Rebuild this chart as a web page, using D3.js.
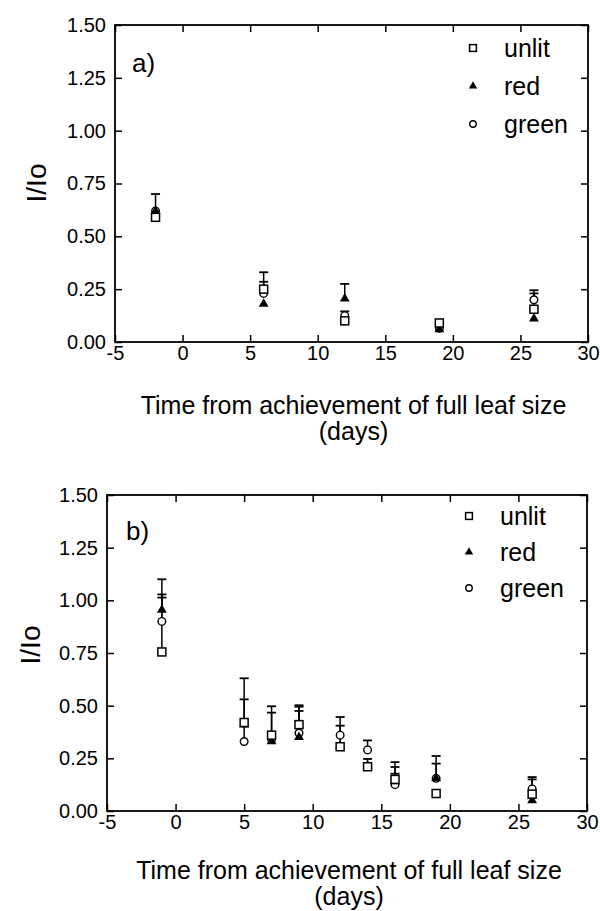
<!DOCTYPE html>
<html><head><meta charset="utf-8">
<script src="https://cdn.jsdelivr.net/npm/d3@7"></script>
<style>body{margin:0;background:#fff}svg{display:block}text{font-family:"Liberation Sans",Arial,sans-serif;fill:#000}</style>
</head><body>
<svg id="c" width="600" height="911"></svg>
<script>
// Panel a data
const daysA = [-2, 6, 12, 19, 26];
const unlitA = [0.59, 0.25, 0.10, 0.09, 0.155];
const redA = [0.62, 0.18, 0.205, 0.06, 0.11];
const greenA = [0.62, 0.23, 0.125, 0.065, 0.20];
const unlitAErr = [0, 0.08, 0, 0, 0.075];
const redAErr = [0.08, 0, 0.07, 0, 0];
const greenAErr = [0, 0.055, 0.02, 0, 0.045];
// Panel b data
const daysB = [-1, 5, 7, 9, 12, 14, 16, 19, 26];
const unlitB = [0.755, 0.42, 0.36, 0.41, 0.305, 0.21, 0.15, 0.083, 0.08];
const redB = [0.955, 0.41, 0.33, 0.35, 0.31, 0.215, 0.14, 0.155, 0.05];
const greenB = [0.90, 0.33, 0.34, 0.37, 0.36, 0.29, 0.125, 0.155, 0.105];
const unlitBErr = [0.345, 0.21, 0.137, 0.092, 0.10, 0.037, 0.082, 0.0, 0.081];
const redBErr = [0.073, 0, 0.137, 0.125, 0, 0, 0.069, 0.106, 0];
const greenBErr = [0.113, 0.2, 0, 0.125, 0.086, 0.045, 0.052, 0.07, 0.045];
// Ticks
const xTicks = [-5, 0, 5, 10, 15, 20, 25, 30];
const yTicks = [0, 0.25, 0.5, 0.75, 1.0, 1.25, 1.5];
const seriesNames = ["unlit", "red", "green"];
const xTitle = "Time from achievement of full leaf size";
const xTitle2 = "(days)";
const yTitle = "I/Io";

const svg = d3.select("#c");
const FONT = '"Liberation Sans",Arial,sans-serif';

function marker(g, type, cx, cy, s) {
  s = s || 1;
  if (type === "unlit") {
    g.append("rect").attr("x", cx - 4 * s).attr("y", cy - 4 * s).attr("width", 8 * s).attr("height", 8 * s)
      .attr("fill", "#fff").attr("stroke", "#000").attr("stroke-width", 1.5);
  } else if (type === "red") {
    g.append("path").attr("d", d3.symbol(d3.symbolTriangle, 42 * s * s)()).attr("transform", `translate(${cx},${cy})`)
      .attr("fill", "#000");
  } else {
    g.append("circle").attr("cx", cx).attr("cy", cy).attr("r", 3.8 * s)
      .attr("fill", "#fff").attr("stroke", "#000").attr("stroke-width", 1.4);
  }
}

function panel(cfg) {
  const x = d3.scaleLinear().domain([-5, 30]).range([cfg.left, cfg.right]);
  const y = d3.scaleLinear().domain([0, 1.5]).range([cfg.bottom, cfg.top]);
  const g = svg.append("g");
  const fmt = d3.format(".2f");
  const ax = g.append("g").attr("transform", `translate(0,${cfg.bottom})`)
    .call(d3.axisBottom(x).tickValues(xTicks).tickSize(-7).tickPadding(4).tickFormat(d => String(d)));
  const axT = g.append("g").attr("transform", `translate(0,${cfg.top})`)
    .call(d3.axisTop(x).tickValues(xTicks).tickSize(-7).tickFormat(""));
  const ay = g.append("g").attr("transform", `translate(${cfg.left},0)`)
    .call(d3.axisLeft(y).tickValues(yTicks).tickSize(-7).tickPadding(9).tickFormat(fmt));
  const ayR = g.append("g").attr("transform", `translate(${cfg.right},0)`)
    .call(d3.axisRight(y).tickValues(yTicks).tickSize(-7).tickFormat(""));
  [ax, axT, ay, ayR].forEach(a => {
    a.select(".domain").remove();
    a.selectAll(".tick line").attr("stroke", "#000").attr("stroke-width", 1.5);
    a.selectAll("text").attr("font-size", 20).attr("font-family", FONT).attr("fill", "#000");
  });
  g.append("rect").attr("x", cfg.left).attr("y", cfg.top)
    .attr("width", cfg.right - cfg.left).attr("height", cfg.bottom - cfg.top)
    .attr("fill", "none").attr("stroke", "#000").attr("stroke-width", 1.8);
  // titles
  g.append("text").attr("transform", `translate(${cfg.yTitleX},${cfg.yTitleY}) rotate(-90)`)
    .attr("text-anchor", "middle").attr("font-size", 28).text(yTitle);
  const cx = (cfg.left + cfg.right) / 2 + 2;
  g.append("text").attr("x", cx).attr("y", cfg.bottom + cfg.t1).attr("text-anchor", "middle").attr("font-size", 25).text(xTitle);
  g.append("text").attr("x", cx).attr("y", cfg.bottom + cfg.t1 + 26).attr("text-anchor", "middle").attr("font-size", 25).text(xTitle2);
  g.append("text").attr("x", cfg.labelX).attr("y", cfg.labelY).attr("font-size", 26).text(cfg.label);
  // error bars then markers (draw order: green, red, unlit)
  const sets = [["green", cfg.green, cfg.greenErr], ["red", cfg.red, cfg.redErr], ["unlit", cfg.unlit, cfg.unlitErr]];
  const eg = g.append("g");
  sets.forEach(([name, vals, errs]) => {
    cfg.days.forEach((d, i) => {
      if (!errs[i]) return;
      const px = x(d), y0 = y(vals[i]), y1 = y(vals[i] + errs[i]);
      eg.append("line").attr("x1", px).attr("x2", px).attr("y1", y0).attr("y2", y1).attr("stroke", "#000").attr("stroke-width", 1.5);
      eg.append("line").attr("x1", px - 4.5).attr("x2", px + 4.5).attr("y1", y1).attr("y2", y1).attr("stroke", "#000").attr("stroke-width", 1.8);
    });
  });
  const mg = g.append("g");
  sets.forEach(([name, vals]) => {
    cfg.days.forEach((d, i) => marker(mg, name, x(d), y(vals[i])));
  });
  // legend
  seriesNames.forEach((n, i) => {
    const ly = cfg.legY + i * cfg.legStep;
    marker(g, n, cfg.legX, ly, 0.85);
    g.append("text").attr("x", cfg.legX + 31).attr("y", ly).attr("dy", "0.35em").attr("font-size", 25).text(n);
  });
}

panel({left: 115, right: 588, top: 25, bottom: 342, yTitleX: 46, yTitleY: 183, labelX: 132, labelY: 72, label: "a)",
  t1: 72, legX: 473, legY: 48, legStep: 38, days: daysA, unlit: unlitA, red: redA, green: greenA,
  unlitErr: unlitAErr, redErr: redAErr, greenErr: greenAErr});
panel({left: 107, right: 587, top: 495, bottom: 811, yTitleX: 40, yTitleY: 645, labelX: 126, labelY: 540, label: "b)",
  t1: 68, legX: 469, legY: 516, legStep: 36, days: daysB, unlit: unlitB, red: redB, green: greenB,
  unlitErr: unlitBErr, redErr: redBErr, greenErr: greenBErr});
</script>
</body></html>
